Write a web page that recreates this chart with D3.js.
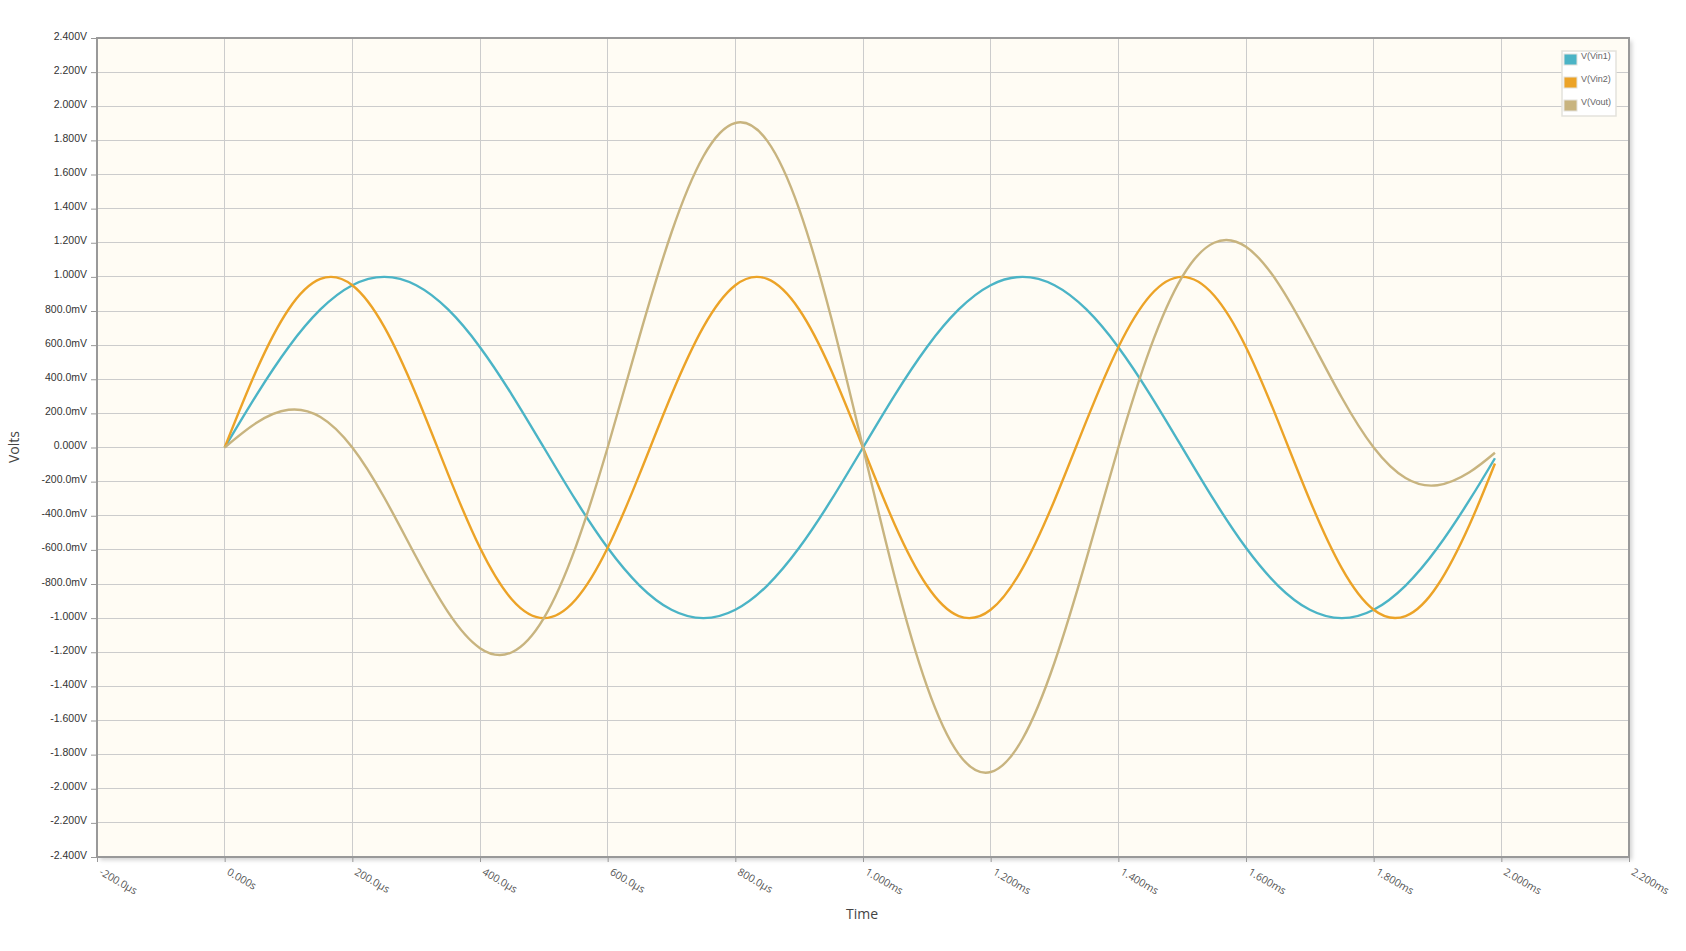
<!DOCTYPE html>
<html>
<head>
<meta charset="utf-8">
<script src="https://cdn.jsdelivr.net/npm/d3@7"></script>
<style>
  html, body { margin: 0; padding: 0; background: #ffffff; }
  svg { display: block; }
</style>
</head>
<body>
<svg id="chart" width="1686" height="951"></svg>
<script>
// ---- data ----
const timesUs = [0,50,100,150,200,250,300,350,400,450,500,550,600,650,700,750,800,850,900,950,
  1000,1050,1100,1150,1200,1250,1300,1350,1400,1450,1500,1550,1600,1650,1700,1750,1800,1850,1900,1950,1990];
const vin1 = [0,0.309,0.588,0.809,0.951,1.0,0.951,0.809,0.588,0.309,
  0,-0.309,-0.588,-0.809,-0.951,-1.0,-0.951,-0.809,-0.588,-0.309,
  0,0.309,0.588,0.809,0.951,1.0,0.951,0.809,0.588,0.309,
  0,-0.309,-0.588,-0.809,-0.951,-1.0,-0.951,-0.809,-0.588,-0.309,-0.063];
const vin2 = [0,0.454,0.809,0.988,0.951,0.707,0.309,-0.156,-0.588,-0.891,
  -1.0,-0.891,-0.588,-0.156,0.309,0.707,0.951,0.988,0.809,0.454,
  0,-0.454,-0.809,-0.988,-0.951,-0.707,-0.309,0.156,0.588,0.891,
  1.0,0.891,0.588,0.156,-0.309,-0.707,-0.951,-0.988,-0.809,-0.454,-0.094];
const vout = [0,0.145,0.221,0.179,0,-0.293,-0.642,-0.965,-1.176,-1.2,
  -1.0,-0.582,0,0.653,1.26,1.707,1.902,1.797,1.397,0.763,
  0,-0.763,-1.397,-1.797,-1.902,-1.707,-1.26,-0.653,0,0.582,
  1.0,1.2,1.176,0.965,0.642,0.293,0,-0.179,-0.221,-0.145,-0.031];
const seriesNames = ["V(Vin1)","V(Vin2)","V(Vout)"];
const seriesColors = ["#4bb4c6","#eca327","#c8b47f"];
const xTickValues = [-200,0,200,400,600,800,1000,1200,1400,1600,1800,2000,2200];
const xTickLabels = ["-200.0\u00b5s","0.000s","200.0\u00b5s","400.0\u00b5s","600.0\u00b5s","800.0\u00b5s",
  "1.000ms","1.200ms","1.400ms","1.600ms","1.800ms","2.000ms","2.200ms"];
const yTickValues = [2.4,2.2,2.0,1.8,1.6,1.4,1.2,1.0,0.8,0.6,0.4,0.2,0,-0.2,-0.4,-0.6,-0.8,-1.0,-1.2,-1.4,-1.6,-1.8,-2.0,-2.2,-2.4];
const yTickLabels = ["2.400V","2.200V","2.000V","1.800V","1.600V","1.400V","1.200V","1.000V",
  "800.0mV","600.0mV","400.0mV","200.0mV","0.000V","-200.0mV","-400.0mV","-600.0mV","-800.0mV",
  "-1.000V","-1.200V","-1.400V","-1.600V","-1.800V","-2.000V","-2.200V","-2.400V"];

// ---- layout ----
const svg = d3.select("#chart");
const L = 97, R = 1629, T = 38, B = 857;
const x = d3.scaleLinear().domain([-200, 2200]).range([L, R]);
const y = d3.scaleLinear().domain([-2.4, 2.4]).range([B, T]);

// shadow
const defs = svg.append("defs");
const f = defs.append("filter").attr("id","sh").attr("x","-5%").attr("y","-5%").attr("width","110%").attr("height","110%");
f.append("feDropShadow").attr("dx",3).attr("dy",3).attr("stdDeviation",2).attr("flood-color","#000").attr("flood-opacity",0.18);

svg.append("rect").attr("x", L).attr("y", T).attr("width", R - L).attr("height", B - T)
  .attr("fill", "#fffcf4").attr("filter","url(#sh)");

// grid
const grid = svg.append("g");
grid.selectAll("line.v").data(xTickValues).join("line")
  .attr("x1", d => x(d)).attr("x2", d => x(d)).attr("y1", T).attr("y2", B)
  .attr("stroke", "#cccccc").attr("stroke-width", 1).attr("shape-rendering","crispEdges");
grid.selectAll("line.h").data(yTickValues).join("line")
  .attr("y1", d => y(d)).attr("y2", d => y(d)).attr("x1", L).attr("x2", R)
  .attr("stroke", "#cccccc").attr("stroke-width", 1).attr("shape-rendering","crispEdges");

// axes
const yAxis = d3.axisLeft(y).tickValues(yTickValues).tickSize(6).tickPadding(4)
  .tickFormat((d, i) => yTickLabels[i]);
const gy = svg.append("g").attr("transform", `translate(${L},0)`).call(yAxis);
gy.select(".domain").remove();
gy.selectAll(".tick line").attr("stroke", "#999");
gy.selectAll(".tick text").attr("fill", "#333").attr("font-family", "Liberation Sans, Arial, sans-serif")
  .attr("font-size", 10.5).attr("dy", "0.1em");

const xAxis = d3.axisBottom(x).tickValues(xTickValues).tickSize(5)
  .tickFormat((d, i) => xTickLabels[i]);
const gx = svg.append("g").attr("transform", `translate(0,${B})`).call(xAxis);
gx.select(".domain").remove();
gx.selectAll(".tick line").attr("stroke", "#999");
gx.selectAll(".tick text").attr("fill", "#555").attr("font-family", "Open Sans, sans-serif")
  .attr("font-size", 10.5).attr("text-anchor", "start")
  .attr("x", 0).attr("y", 0).attr("dy", 0)
  .attr("transform", "translate(1,17) rotate(30)");

// frame
svg.append("rect").attr("x", L).attr("y", T).attr("width", R - L).attr("height", B - T)
  .attr("fill", "none").attr("stroke", "#999").attr("stroke-width", 2);

// lines
const series = [vin1, vin2, vout];
const line = d3.line().x(d => x(d[0])).y(d => y(d[1])).curve(d3.curveNatural);
series.forEach((vals, i) => {
  svg.append("path")
    .datum(timesUs.map((t, j) => [t, vals[j]]))
    .attr("fill", "none").attr("stroke", seriesColors[i]).attr("stroke-width", 2.4)
    .attr("stroke-linejoin","round")
    .attr("d", line);
});

// axis titles
svg.append("text").attr("transform", `translate(19,447) rotate(-90)`)
  .attr("text-anchor", "middle").attr("font-family", "Open Sans, sans-serif").attr("font-size", 14)
  .attr("fill", "#444").text("Volts");
svg.append("text").attr("x", 862).attr("y", 919)
  .attr("text-anchor", "middle").attr("font-family", "Open Sans, sans-serif").attr("font-size", 14)
  .attr("fill", "#444").text("Time");

// legend
const lg = svg.append("g").attr("transform", "translate(1562,51)");
lg.append("rect").attr("width", 54).attr("height", 65).attr("fill", "#ffffff")
  .attr("stroke", "#e4e2dc").attr("stroke-width", 1.5);
seriesNames.forEach((n, i) => {
  const row = lg.append("g").attr("transform", `translate(2,${3 + i * 23})`);
  row.append("rect").attr("width", 13).attr("height", 11).attr("fill", seriesColors[i])
    .attr("stroke", "#e4e2dc").attr("stroke-width", 1);
  row.append("text").attr("x", 17).attr("y", 5).attr("font-family", "Liberation Sans, Arial, sans-serif")
    .attr("font-size", 9).attr("fill", "#666").text(n);
});
</script>
</body>
</html>
